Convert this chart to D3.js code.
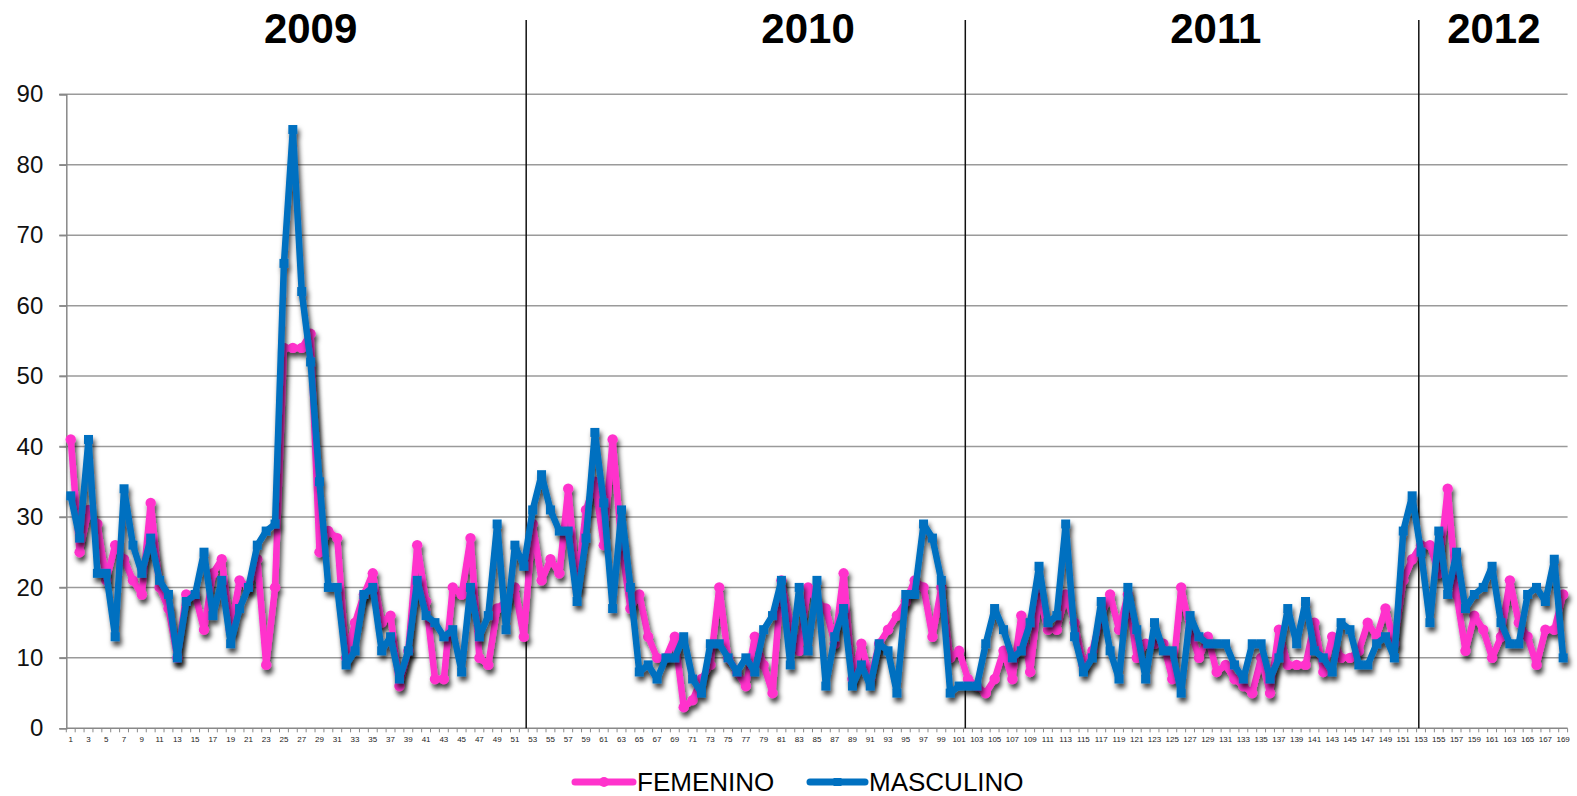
<!DOCTYPE html>
<html>
<head>
<meta charset="utf-8">
<script src="https://cdn.jsdelivr.net/npm/d3@7"></script>
<style>
  html, body { margin: 0; padding: 0; background: #fff; }
  svg { display: block; font-family: "Liberation Sans", Arial, sans-serif; }
</style>
</head>
<body>
<svg id="chart" width="1577" height="796"></svg>
<script>
// ---------- DATA ----------
const weeks = d3.range(1, 170); // 1..169
const femenino = [
  41,25,31,29,21,26,24,21,19,32,20,17,10,19,19,14,22,24,14,21,
  20,24,9,20,54,54,54,56,25,28,27,10,15,19,22,15,16,6,11,26,
  18,7,7,20,19,27,10,9,17,18,20,13,29,21,24,22,34,20,31,35,
  26,41,26,17,19,13,10,10,13,3,4,7,9,20,10,8,6,13,9,5,
  21,15,11,20,18,17,12,22,7,12,7,12,14,16,18,21,20,13,20,10,
  11,7,6,5,7,11,7,16,8,19,14,14,19,15,9,11,16,19,14,19,
  10,12,12,12,7,20,14,10,13,8,9,7,6,5,10,5,14,9,9,9,
  15,8,13,10,10,11,15,13,17,12,21,24,26,26,22,34,19,11,16,14,
  10,13,21,15,13,9,14,14,19
];
const masculino = [
  33,27,41,22,22,13,34,26,22,27,21,19,10,18,19,25,16,21,12,17,
  20,26,28,29,66,85,62,52,35,20,20,9,11,19,20,11,13,7,11,21,
  16,15,13,14,8,20,13,16,29,14,26,23,31,36,31,28,28,18,27,42,
  32,17,31,20,8,9,7,10,10,13,7,5,12,12,10,8,10,8,14,16,
  21,9,20,11,21,6,13,17,6,9,6,12,11,5,19,19,29,27,21,5,
  6,6,6,12,17,14,10,11,15,23,15,16,29,13,8,10,18,11,7,20,
  14,7,15,11,11,5,16,13,12,12,12,9,7,12,12,7,10,17,12,18,
  11,10,8,15,14,9,9,12,13,10,28,33,25,15,28,19,25,17,19,20,
  23,15,12,12,19,20,18,24,10
];
const yTicks = [0,10,20,30,40,50,60,70,80,90];
const xTickLabels = weeks.filter(w => w % 2 === 1);
const years = ["2009", "2010", "2011", "2012"];
const yearLabelAt = [28.0, 84.0, 129.9, 161.2];   // week position of each year label
const yearDividers = [52.27, 101.7, 152.75];     // week position of dividers
const seriesNames = ["FEMENINO", "MASCULINO"];
const colors = { FEMENINO: "#ff33cc", MASCULINO: "#0070c0" };

// ---------- LAYOUT ----------
const svg = d3.select("#chart");
const mLeft = 66.3, mRight = 1567.6, mTop = 94.3, mBottom = 728.3;

const x = d3.scaleLinear().domain([0.5, 169.5]).range([mLeft, mRight]);
const y = d3.scaleLinear().domain([0, 90]).range([mBottom, mTop]);

// shadow filter
const defs = svg.append("defs");
const f = defs.append("filter").attr("id", "shadow")
  .attr("x", "-5%").attr("y", "-5%").attr("width", "110%").attr("height", "120%");
f.append("feDropShadow").attr("dx", 2).attr("dy", 4.5).attr("stdDeviation", 2.4)
  .attr("flood-color", "#000").attr("flood-opacity", 0.75);

// gridlines
svg.append("g").selectAll("line").data(yTicks.filter(t => t > 0)).join("line")
  .attr("x1", mLeft - 7).attr("x2", mRight)
  .attr("y1", d => y(d)).attr("y2", d => y(d))
  .attr("stroke", "#9a9a9a").attr("stroke-width", 1.5);

// y axis
const yAxis = d3.axisLeft(y).tickValues(yTicks).tickSize(7).tickPadding(8);
const gy = svg.append("g").attr("transform", `translate(${mLeft},0)`).call(yAxis);
gy.select(".domain").attr("stroke", "#888").attr("stroke-width", 1.5);
gy.selectAll(".tick line").attr("stroke", "#888").attr("stroke-width", 1.5);
gy.selectAll(".tick text").attr("font-size", 24).attr("fill", "#111")
  .attr("font-family", "Liberation Sans, Arial, sans-serif").attr("dx", -8);

// x axis
const gx = svg.append("g").attr("transform", `translate(0,${mBottom})`);
gx.append("line").attr("x1", mLeft).attr("x2", mRight)
  .attr("stroke", "#888").attr("stroke-width", 1.5);
gx.selectAll("line.tk").data(d3.range(0, 170)).join("line").attr("class", "tk")
  .attr("x1", d => x(d + 0.5)).attr("x2", d => x(d + 0.5))
  .attr("y1", 0).attr("y2", 4).attr("stroke", "#888").attr("stroke-width", 1);
gx.selectAll("text").data(xTickLabels).join("text")
  .attr("x", d => x(d)).attr("y", 13.5)
  .attr("text-anchor", "middle").attr("font-size", 8).attr("fill", "#222")
  .text(d => d);

// year dividers
svg.append("g").selectAll("line").data(yearDividers).join("line")
  .attr("x1", d => x(d)).attr("x2", d => x(d))
  .attr("y1", 20).attr("y2", mBottom)
  .attr("stroke", "#111").attr("stroke-width", 1.5);

// year labels
svg.append("g").selectAll("text").data(years).join("text")
  .attr("x", (d, i) => x(yearLabelAt[i])).attr("y", 43)
  .attr("text-anchor", "middle").attr("font-size", 42).attr("font-weight", "bold")
  .attr("fill", "#000").text(d => d);

// lines
const line = d3.line().x((d, i) => x(weeks[i])).y(d => y(d));
const series = [
  { name: "FEMENINO", values: femenino },
  { name: "MASCULINO", values: masculino }
];

series.forEach(s => {
  const g = svg.append("g").attr("filter", "url(#shadow)");
  g.append("path").datum(s.values)
    .attr("d", line).attr("fill", "none")
    .attr("stroke", colors[s.name]).attr("stroke-width", 6.5)
    .attr("stroke-linejoin", "round").attr("stroke-linecap", "round");
  if (s.name === "FEMENINO") {
    g.selectAll("circle").data(s.values).join("circle")
      .attr("cx", (d, i) => x(weeks[i])).attr("cy", d => y(d))
      .attr("r", 5.2).attr("fill", colors[s.name]);
  } else {
    g.selectAll("rect").data(s.values).join("rect")
      .attr("x", (d, i) => x(weeks[i]) - 4.5).attr("y", d => y(d) - 4.5)
      .attr("width", 9).attr("height", 9).attr("fill", colors[s.name]);
  }
});

// legend
const legend = svg.append("g");
const legendItems = [
  { name: seriesNames[0], x1: 575, x2: 633 },
  { name: seriesNames[1], x1: 810, x2: 865 }
];
legendItems.forEach(it => {
  legend.append("line").attr("x1", it.x1).attr("x2", it.x2).attr("y1", 782).attr("y2", 782)
    .attr("stroke", colors[it.name]).attr("stroke-width", 7).attr("stroke-linecap", "round");
  if (it.name === "FEMENINO") {
    legend.append("circle").attr("cx", (it.x1 + it.x2) / 2).attr("cy", 782).attr("r", 5)
      .attr("fill", colors[it.name]);
  } else {
    legend.append("rect").attr("x", (it.x1 + it.x2) / 2 - 4).attr("y", 778)
      .attr("width", 8).attr("height", 8).attr("fill", colors[it.name]);
  }
  legend.append("text").attr("x", it.x2 + 4).attr("y", 791)
    .attr("font-size", 26).attr("fill", "#000").text(it.name);
});
</script>
</body>
</html>
